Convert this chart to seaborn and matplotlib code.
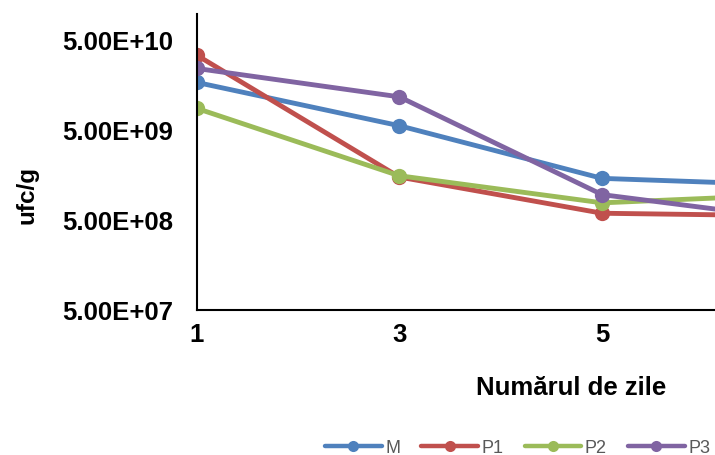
import matplotlib
matplotlib.use("Agg")
import matplotlib.pyplot as plt
from matplotlib.lines import Line2D
from matplotlib.ticker import FixedLocator, FixedFormatter, NullLocator
import seaborn as sns
import pandas as pd

# ---- data ----
days = [1, 3, 5, 7]
series_names = ["M", "P1", "P2", "P3"]
M = [1.68e10, 5.54e9, 1.44e9, 1.20e9]
P1 = [3.38e10, 1.49e9, 5.90e8, 5.50e8]
P2 = [8.65e9, 1.54e9, 7.70e8, 9.60e8]
P3 = [2.40e10, 1.16e10, 9.50e8, 4.90e8]
x_ticks = [1, 3, 5]
y_ticks = [5e7, 5e8, 5e9, 5e10]
y_tick_labels = ["5.00E+07", "5.00E+08", "5.00E+09", "5.00E+10"]
colors = ["#4F81BD", "#C0504D", "#9BBB59", "#8064A2"]

rows = []
for name, vals in zip(series_names, [M, P1, P2, P3]):
    for d, v in zip(days, vals):
        rows.append({"day": d, "ufc": v, "serie": name})
df = pd.DataFrame(rows)

sns.set_style("white")
plt.rcParams["font.family"] = ["Liberation Sans", "DejaVu Sans"]

W, H = 715, 456
fig = plt.figure(figsize=(W / 100, H / 100), dpi=100)
ax_left, ax_bottom_px, ax_top_px = 196.5, 310.7, 15.0
ax = fig.add_axes([ax_left / W, (H - ax_bottom_px) / H,
                   (W - ax_left) / W, (ax_bottom_px - ax_top_px) / H])

sns.lineplot(data=df, x="day", y="ufc", hue="serie", hue_order=series_names,
             palette=colors, marker="o", markersize=11, markeredgewidth=0,
             linewidth=3.5, errorbar=None, legend=False, ax=ax)

ax.set_yscale("log")
ax.set_ylim(5e7, 9.66e10)
ax.set_xlim(1, 1 + (W - ax_left) / 101.4)

ax.yaxis.set_major_locator(FixedLocator(y_ticks))
ax.yaxis.set_major_formatter(FixedFormatter(y_tick_labels))
ax.yaxis.set_minor_locator(NullLocator())
ax.set_xticks(x_ticks)
ax.set_xticklabels([str(t) for t in x_ticks])

for s in ["top", "right"]:
    ax.spines[s].set_visible(False)
for s in ["left", "bottom"]:
    ax.spines[s].set_color("black")
    ax.spines[s].set_linewidth(1.5)

ax.tick_params(axis="y", length=0, pad=17, labelsize=18.5)
ax.tick_params(axis="x", length=0, pad=9, labelsize=18.5)
for lab in ax.get_xticklabels() + ax.get_yticklabels():
    lab.set_fontweight("bold")
    lab.set_color("black")

ax.set_xlabel("Numărul de zile", fontsize=18.5, fontweight="bold", color="black")
ax.xaxis.set_label_coords(0.723, -0.262)
ax.xaxis.label.set_va("center")
ax.set_ylabel("ufc/g", fontsize=17.5, fontweight="bold", color="black")
ax.yaxis.set_label_coords(-0.3275, 0.39)
ax.yaxis.label.set_va("center")

handles = [Line2D([], [], color=c, lw=3.2, marker="o", markersize=8,
                  markeredgewidth=0) for c in colors]
leg = fig.legend(handles, series_names, loc="center left",
                 bbox_to_anchor=(325 / W, 1 - 449 / H), ncol=4, frameon=False,
                 fontsize=13, handlelength=3.15, handletextpad=0.2,
                 columnspacing=1.15, borderaxespad=0, borderpad=0)
for t in leg.get_texts():
    t.set_color("#595959")

fig.savefig("out.png", dpi=100)
